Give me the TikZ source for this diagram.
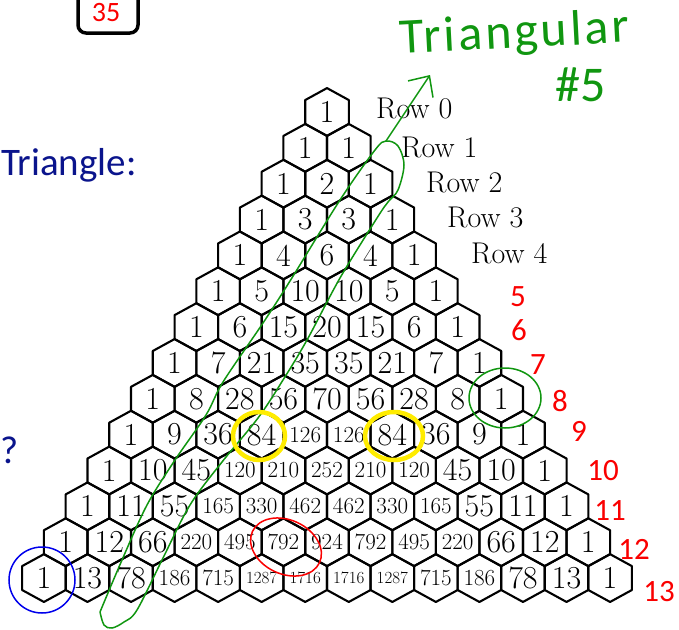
\documentclass[tikz,border=0pt]{standalone}
\usepackage{fontspec}
\newfontfamily\handfont{Carlito}
\newfontfamily\handwide[LetterSpace=6]{Carlito}
\usetikzlibrary{arrows.meta}
\definecolor{penGreen}{RGB}{16,150,16}
\definecolor{penRed}{RGB}{250,0,0}
\definecolor{penBlue}{RGB}{0,0,235}
\definecolor{penYellow}{RGB}{255,236,0}
\definecolor{slideBlue}{RGB}{10,20,140}
% size of the number in a cell goes down with its digits
\newcommand\cellsize[1]{\ifnum#1<100 \fontsize{32}{32}\selectfont\else\ifnum#1<1000 \fontsize{23}{23}\selectfont\else\fontsize{17}{17}\selectfont\fi\fi #1}
\tikzset{
 hexcell/.style={line width=2.1pt,line join=round},
 cellnum/.style={inner sep=0},
 rowlabel/.style={anchor=base west,inner sep=0,font=\fontsize{30}{30}\selectfont\addfontfeatures{LetterSpace=5}},
 greenpen/.style={draw=penGreen,line width=1.5pt,line cap=round},
 redpen/.style={draw=penRed,line width=1.5pt,line cap=round},
 bluepen/.style={draw=penBlue,line width=1.5pt},
 yellowpen/.style={draw=penYellow,line width=4.5pt},
 reddigit/.style={inner sep=0,text=penRed,font=\handfont\fontsize{31}{31}\selectfont},
 slidetext/.style={inner sep=0,anchor=base west,text=slideBlue,font=\handfont\fontsize{39}{39}\selectfont}
}
\begin{document}
\begin{tikzpicture}[x=1pt,y=-1pt]
\path[use as bounding box] (0,0) rectangle (679,629);
% the triangle
\foreach \r/\vals in {0/{1},1/{1,1},2/{1,2,1},3/{1,3,3,1},4/{1,4,6,4,1},5/{1,5,10,10,5,1},
  6/{1,6,15,20,15,6,1},7/{1,7,21,35,35,21,7,1},8/{1,8,28,56,70,56,28,8,1},
  9/{1,9,36,84,126,126,84,36,9,1},10/{1,10,45,120,210,252,210,120,45,10,1},
  11/{1,11,55,165,330,462,462,330,165,55,11,1},12/{1,12,66,220,495,792,924,792,495,220,66,12,1},
  13/{1,13,78,186,715,1287,1716,1716,1287,715,186,78,13,1}}{
  \foreach \v [count=\k from 0] in \vals {
    \pgfmathsetmacro\cx{327+(\k-\r/2)*43.55}
    \pgfmathsetmacro\cy{112+\r*35.85}
    \node[cellnum] (c-\r-\k) at (\cx,\cy) {\cellsize{\v}};
    \draw[hexcell] (c-\r-\k.center) ++(0,-23.9) -- ++(21.8,11.95) -- ++(0,23.9) -- ++(-21.8,11.95)
      -- ++(-21.8,-11.95) -- ++(0,-23.9) -- cycle;
  }
}
\foreach \r/\lx/\ly in {0/376/118,1/401/157,2/426/192,3/447/227,4/471/263}
  \node[rowlabel] (row-\r) at (\lx,\ly) {Row \r};
% slide text
\node[slidetext] (title) at (1,175) {Triangle:};
\node[slidetext] (ask) at (0,463) {?};
\draw[line width=3.5pt,rounded corners=8pt] (78,-20) rectangle (138,33);
\node[reddigit,font=\handfont\fontsize{28}{28}\selectfont] (boxnum) at (106,13) {35};
% red row numbers
\foreach \t/\x/\y in {5/518/297,6/519/330,7/538/365,8/560/401,9/579/431,10/603/471,11/610/511,12/634/549,13/659/592}
  \node[reddigit] (num-\t) at (\x,\y) {\t};
% green lasso and arrow
\draw[greenpen] plot[smooth,tension=0.55] coordinates {(100,612) (122,560) (147,505) (175,460)
  (206,415) (223,382) (263,323) (290,281) (340,200) (375,150) (386,141) (398,146) (404,165)
  (398,190) (388,202) (377,218) (340,278) (307,340) (283,380) (258,418) (222,462) (190,505)
  (163,558) (137,610) (124,622) (112,628) (104,625) (100,612)};
\coordinate (loopTop) at (386,141);
\coordinate (arrowTip) at (430,75);
\draw[greenpen,-{Straight Barb[length=16pt,width=30pt]}] (loopTop) -- (arrowTip);
\node[inner sep=0,anchor=base west,rotate=3,text=penGreen,font=\handwide\fontsize{50}{50}\selectfont] (tri) at (400,54) {Triangular};
\node[inner sep=0,anchor=base west,text=penGreen,font=\handfont\fontsize{50}{50}\selectfont] (five) at (555,101) {\#5};
\draw[greenpen] (505,398) ellipse [x radius=36,y radius=30];
% circled cells
\draw[yellowpen] (259,436) ellipse [x radius=26,y radius=24];
\draw[yellowpen] (394,436) ellipse [x radius=29,y radius=24];
\draw[redpen,rotate around={-25:(286,547)}] (286,547) ellipse [x radius=37,y radius=27];
\draw[bluepen] (42,580) ellipse [x radius=33,y radius=33];
\end{tikzpicture}
\end{document}
